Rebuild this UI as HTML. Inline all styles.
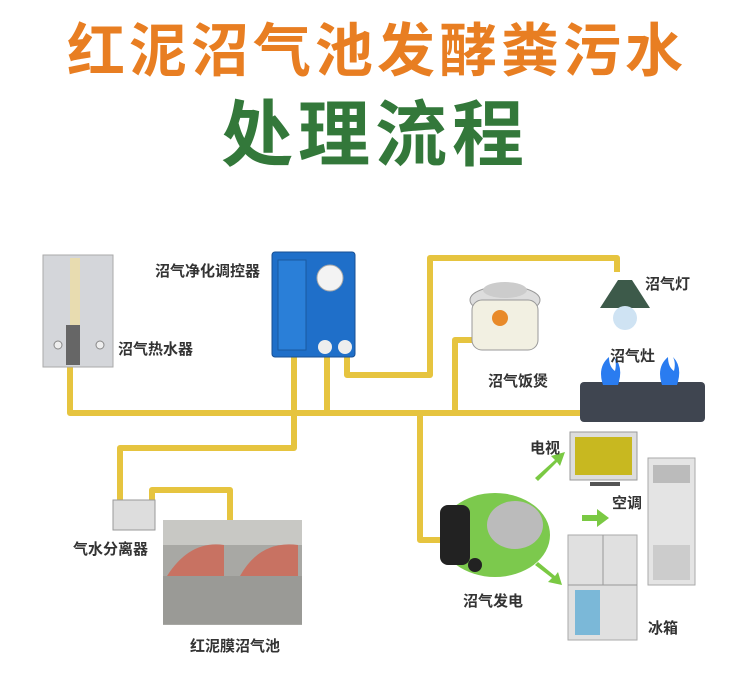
<!DOCTYPE html><html><head><meta charset="utf-8"><style>
body{margin:0;width:750px;height:680px;background:#fff;overflow:hidden;position:relative;font-family:"Liberation Sans","Noto Sans CJK SC",sans-serif}
.t{position:absolute;white-space:nowrap;font-weight:bold}
.l{position:absolute;white-space:nowrap;font-size:15px;color:#333;font-weight:bold}
</style></head><body>
<div class="t" style="left:67px;top:17px;font-size:58px;line-height:70px;color:#e87e22;letter-spacing:4px">红泥沼气池发酵粪污水</div>
<div class="t" style="left:221px;top:96px;font-size:72px;line-height:80px;color:#33783a;letter-spacing:5px">处理流程</div>
<svg style="position:absolute;left:0;top:0" width="750" height="680">
<g fill="none" stroke="#e6c43f" stroke-width="6" stroke-linejoin="round">
<path d="M70 367V413H580"/>
<path d="M294 357V448H120V500"/>
<path d="M152 505V490H230V522"/>
<path d="M327 357V413"/>
<path d="M347 357V375H430V258H617V272"/>
<path d="M455 413V340H480"/>
<path d="M420 413V540H442"/>
</g>
<rect x="43" y="255" width="70" height="112" fill="#d4d6da" stroke="#aaa"/>
<rect x="70" y="258" width="10" height="100" fill="#e8dcb0"/>
<rect x="66" y="325" width="14" height="40" fill="#666"/>
<circle cx="58" cy="345" r="4" fill="#eee" stroke="#888"/><circle cx="100" cy="345" r="4" fill="#eee" stroke="#888"/>
<rect x="272" y="252" width="83" height="105" rx="3" fill="#1f6fc9" stroke="#174f94"/>
<rect x="278" y="260" width="28" height="90" fill="#2a7fd8" stroke="#1a5aa0"/>
<circle cx="330" cy="278" r="13" fill="#f3f3f3" stroke="#aaa"/>
<circle cx="325" cy="347" r="7" fill="#eee"/><circle cx="345" cy="347" r="7" fill="#eee"/>
<ellipse cx="505" cy="300" rx="35" ry="14" fill="#ddd" stroke="#999"/>
<rect x="472" y="300" width="66" height="50" rx="10" fill="#f2f0e2" stroke="#999"/>
<ellipse cx="505" cy="290" rx="22" ry="8" fill="#ccc"/>
<circle cx="500" cy="318" r="8" fill="#e88a2a"/>
<path d="M600 308 L618 280 L632 280 L650 308Z" fill="#3d5a4a"/>
<ellipse cx="625" cy="318" rx="12" ry="12" fill="#cfe3f3"/>
<rect x="580" y="382" width="125" height="40" rx="4" fill="#3f4550"/>
<path d="M603 385 q-6 -18 6 -28 q0 10 6 14 q2 -8 -1 -14 q10 10 4 28z" fill="#2a7cf0"/>
<path d="M662 385 q-6 -18 6 -28 q0 10 6 14 q2 -8 -1 -14 q10 10 4 28z" fill="#2a7cf0"/>
<rect x="113" y="500" width="42" height="30" fill="#ddd" stroke="#999"/>
<rect x="163" y="520" width="139" height="105" fill="#a8a8a4"/>
<rect x="163" y="520" width="139" height="25" fill="#c8c8c4"/>
<path d="M167 576 Q190 540 224 545 V576Z" fill="#c87262"/>
<path d="M240 576 Q260 540 298 545 V576Z" fill="#c87262"/>
<rect x="163" y="576" width="139" height="48" fill="#9a9a96"/>
<ellipse cx="495" cy="535" rx="55" ry="42" fill="#7cc94d"/>
<rect x="440" y="505" width="30" height="60" rx="8" fill="#222"/>
<ellipse cx="515" cy="525" rx="28" ry="24" fill="#bbb"/>
<circle cx="475" cy="565" r="7" fill="#222"/>
<rect x="570" y="432" width="67" height="48" fill="#ddd" stroke="#999"/>
<rect x="575" y="437" width="57" height="38" fill="#c8b820"/>
<rect x="590" y="482" width="30" height="4" fill="#555"/>
<rect x="648" y="458" width="47" height="127" fill="#e4e4e4" stroke="#aaa"/>
<rect x="653" y="465" width="37" height="18" fill="#bbb"/>
<rect x="653" y="545" width="37" height="35" fill="#ccc"/>
<rect x="568" y="535" width="69" height="105" fill="#e0e0e0" stroke="#aaa"/>
<line x1="603" y1="535" x2="603" y2="585" stroke="#999"/><line x1="568" y1="585" x2="637" y2="585" stroke="#999"/>
<rect x="575" y="590" width="25" height="45" fill="#7bb8d8"/>
<g fill="#7ac943">
<path d="M535 478 L555 460 L551 456 L565 452 L560 466 L557 462 L538 481Z"/>
<path d="M582 515 H597 V509 L609 518 L597 527 V521 H582Z"/>
<path d="M535 565 L552 578 L548 582 L562 585 L558 572 L555 576 L538 562Z"/>
</g>
</svg>
<div class="l" style="left:155px;top:260px">沼气净化调控器</div>
<div class="l" style="left:118px;top:338px">沼气热水器</div>
<div class="l" style="left:645px;top:273px">沼气灯</div>
<div class="l" style="left:610px;top:345px">沼气灶</div>
<div class="l" style="left:488px;top:370px">沼气饭煲</div>
<div class="l" style="left:530px;top:437px">电视</div>
<div class="l" style="left:612px;top:492px">空调</div>
<div class="l" style="left:648px;top:617px">冰箱</div>
<div class="l" style="left:463px;top:590px">沼气发电</div>
<div class="l" style="left:73px;top:538px">气水分离器</div>
<div class="l" style="left:190px;top:635px">红泥膜沼气池</div>
</body></html>
